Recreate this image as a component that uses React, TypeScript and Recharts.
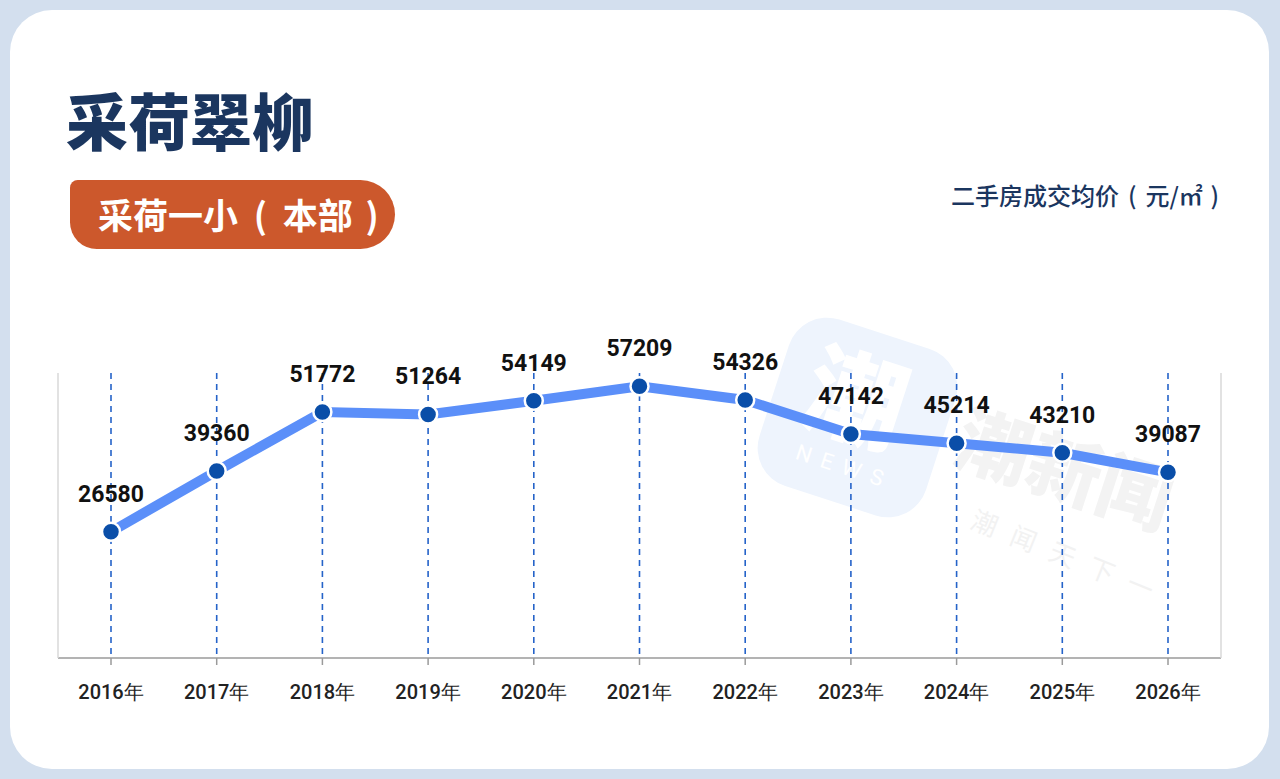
import { CartesianGrid, LabelList, Line, LineChart, XAxis, YAxis } from "recharts";

const years = ["2016年", "2017年", "2018年", "2019年", "2020年", "2021年", "2022年", "2023年", "2024年", "2025年", "2026年"];
const prices = [26580, 39360, 51772, 51264, 54149, 57209, 54326, 47142, 45214, 43210, 39087];
const yDomain = [0, 60000];

const data = years.map((year, i) => ({ year, price: prices[i] }));

const navy = "#1b365f";
const cjk = '"Noto Sans CJK SC", "Noto Sans", sans-serif';

// grid lines only at the category positions, not at the plot edges
function gridXs({ xAxis, offset }: any) {
  if (xAxis && typeof xAxis.scale === "function") {
    return years.map((y) => xAxis.scale(y));
  }
  const inner = offset.width - 106;
  return years.map((_, i) => offset.left + 53 + (i * inner) / (years.length - 1));
}

// bracket glyph centred in its own slot, as in the source typesetting
function Paren({ ch, w }: { ch: string; w: string }) {
  return <span style={{ display: "inline-block", width: w, textAlign: "center" }}>{ch}</span>;
}

function Watermark() {
  return (
    <div style={{ position: "absolute", left: 0, top: 0, width: 1280, height: 779, pointerEvents: "none" }}>
      <div
        style={{
          position: "absolute",
          left: 770,
          top: 330,
          width: 175,
          height: 175,
          borderRadius: 40,
          background: "#eef4fd",
          transform: "rotate(18deg)",
        }}
      >
        <div style={{ position: "absolute", left: 30, top: 14, fontFamily: cjk, fontWeight: 900, fontSize: 100, color: "#ffffff", lineHeight: 1 }}>
          潮
        </div>
        <div style={{ position: "absolute", left: 40, top: 126, fontFamily: "Roboto", fontSize: 22, letterSpacing: 10, color: "#ffffff" }}>
          NEWS
        </div>
      </div>
      <div
        style={{
          position: "absolute",
          left: 972,
          top: 396,
          fontFamily: cjk,
          fontWeight: 900,
          fontSize: 74,
          color: "#f3f3f3",
          transform: "rotate(18deg)",
          transformOrigin: "left top",
          lineHeight: 1,
        }}
      >
        潮新闻
      </div>
      <div
        style={{
          position: "absolute",
          left: 978,
          top: 505,
          fontFamily: cjk,
          fontSize: 26,
          color: "#f2f2f2",
          letterSpacing: 16,
          transform: "rotate(22deg)",
          transformOrigin: "left top",
          lineHeight: 1,
        }}
      >
        潮闻天下一
      </div>
    </div>
  );
}

export default function App() {
  return (
    <div style={{ position: "absolute", left: 0, top: 0, width: 1280, height: 779, background: "#d3dfee", overflow: "hidden" }}>
      <div
        style={{
          position: "absolute",
          left: 10,
          top: 10,
          width: 1259,
          height: 759,
          background: "#ffffff",
          borderRadius: 42,
        }}
      />
      <Watermark />
      <div
        style={{
          position: "absolute",
          left: 66,
          top: 88,
          fontFamily: cjk,
          fontWeight: 900,
          fontSize: 62,
          color: navy,
          lineHeight: 1,
        }}
      >
        采荷翠柳
      </div>
      <div
        style={{
          position: "absolute",
          left: 70,
          top: 180,
          width: 325,
          height: 69,
          background: "#cc582c",
          borderRadius: "8px 36px 36px 28px",
        }}
      >
        <div
          style={{
            position: "absolute",
            left: 28,
            top: 16,
            fontFamily: cjk,
            fontWeight: 700,
            fontSize: 35,
            color: "#ffffff",
            lineHeight: 1,
            whiteSpace: "nowrap",
          }}
        >
          采荷一小<Paren ch="(" w="1.28em" />本部<Paren ch=")" w="1.1em" />
        </div>
      </div>
      <div
        style={{
          position: "absolute",
          left: 951,
          top: 183,
          fontFamily: cjk,
          fontWeight: 500,
          fontSize: 24,
          color: navy,
          lineHeight: 1,
          whiteSpace: "nowrap",
        }}
      >
        二手房成交均价<Paren ch="(" w="1.1em" />元/㎡<Paren ch=")" w="1em" />
      </div>
      <div style={{ position: "absolute", left: 0, top: 0 }}>
        <LineChart width={1280} height={779} data={data} margin={{ top: 373, right: 58, left: 57, bottom: 81 }}>
          <CartesianGrid
            horizontal={false}
            vertical
            verticalCoordinatesGenerator={gridXs}
            stroke="#2563c9"
            strokeWidth={1.6}
            strokeDasharray="6 5"
          />
          <XAxis
            dataKey="year"
            height={40}
            padding={{ left: 53, right: 53 }}
            axisLine={{ stroke: "#9a9a9a", strokeWidth: 1.5 }}
            tickLine={{ stroke: "#9a9a9a", strokeWidth: 1.5 }}
            tickSize={7}
            tickMargin={20}
            tick={{ fill: "#222222", fontSize: 20, fontWeight: 500, fontFamily: "Roboto" }}
            interval={0}
          />
          <YAxis yAxisId="left" domain={yDomain} width={1} tick={false} tickLine={false} axisLine={{ stroke: "#d9d9d9", strokeWidth: 1.5 }} />
          <YAxis yAxisId="right" orientation="right" domain={yDomain} width={1} tick={false} tickLine={false} axisLine={{ stroke: "#d9d9d9", strokeWidth: 1.5 }} />
          <Line
            yAxisId="left"
            type="linear"
            dataKey="price"
            stroke="#5b8ff9"
            strokeWidth={10}
            dot={{ r: 9, fill: "#0a4ea8", stroke: "#ffffff", strokeWidth: 2.5 }}
            activeDot={false}
            isAnimationActive={false}
          >
            <LabelList
              dataKey="price"
              position="top"
              offset={30}
              fill="#111111"
              fontSize={23}
              fontWeight={700}
              fontFamily="Roboto"
            />
          </Line>
        </LineChart>
      </div>
    </div>
  );
}
